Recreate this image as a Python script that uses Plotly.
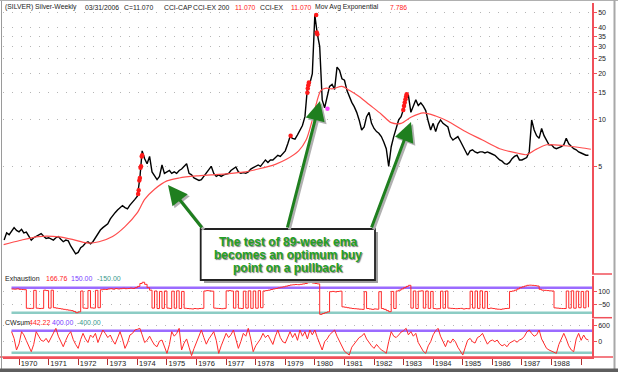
import plotly.graph_objects as go
import pandas as pd

# ---------------- data ----------------
months = pd.date_range("1969-07-01", periods=238, freq="MS")

price = (
    [1.66, 1.85, 1.80, 1.90, 2.00, 1.92]  # 1969 Jul-Dec
    + [1.88, 1.95, 1.85, 1.87, 1.75, 1.66, 1.72, 1.76, 1.80, 1.83, 1.76, 1.70]  # 1970
    + [1.72, 1.68, 1.66, 1.72, 1.75, 1.68, 1.62, 1.66, 1.64, 1.52, 1.43, 1.35]  # 1971
    + [1.38, 1.48, 1.52, 1.59, 1.62, 1.57, 1.62, 1.72, 1.85, 1.93, 2.00, 2.06]  # 1972
    + [2.12, 2.28, 2.40, 2.50, 2.60, 2.70, 2.78, 2.70, 2.65, 2.80, 2.95, 3.05]  # 1973
    + [3.20, 4.20, 6.30, 5.60, 5.20, 5.80, 4.60, 4.30, 4.10, 4.30, 5.10, 4.50]  # 1974
    + [4.60, 4.70, 4.50, 4.60, 4.50, 4.70, 4.80, 5.00, 5.20, 4.50, 4.40, 4.20]  # 1975
    + [4.10, 4.05, 4.10, 4.30, 4.50, 4.80, 5.00, 4.50, 4.30, 4.40, 4.30, 4.40]  # 1976
    + [4.45, 4.50, 4.70, 4.85, 4.95, 4.60, 4.50, 4.55, 4.50, 4.60, 4.80, 4.90]  # 1977
    + [5.00, 5.10, 5.00, 5.30, 5.50, 5.30, 5.50, 5.50, 5.70, 5.90, 5.80, 6.00]  # 1978
    + [6.30, 7.00, 7.80, 7.60, 7.50, 8.00, 8.60, 9.20, 10.5, 16.0, 17.3, 20.0]  # 1979
    + [48.0, 36.0, 30.0, 13.5, 12.0, 14.5, 16.5, 17.0, 15.8, 22.0, 21.0, 18.5]  # 1980
    + [18.1, 15.5, 14.1, 13.0, 12.2, 11.2, 10.0, 8.6, 9.0, 10.5, 11.2, 9.5]  # 1981
    + [8.8, 8.4, 8.2, 7.8, 7.2, 6.5, 5.0, 6.7, 7.8, 9.0, 10.0, 10.5]  # 1982
    + [11.8, 13.8, 14.5, 11.2, 12.4, 13.5, 12.4, 12.9, 12.3, 11.5, 9.8, 8.6]  # 1983
    + [9.5, 8.4, 9.4, 10.0, 9.5, 9.2, 9.0, 7.8, 7.4, 7.6, 7.8, 7.3]  # 1984
    + [6.8, 6.4, 5.9, 6.3, 6.4, 6.2, 6.1, 6.2, 6.2, 6.1, 6.2, 6.1]  # 1985
    + [6.0, 5.9, 5.7, 5.5, 5.4, 5.2, 5.15, 5.3, 5.6, 5.8, 5.9, 5.5]  # 1986
    + [5.5, 5.6, 5.7, 6.2, 10.0, 8.6, 7.9, 7.6, 8.8, 7.9, 7.3, 6.9]  # 1987
    + [6.9, 6.6, 6.5, 6.6, 6.7, 6.9, 7.6, 7.0, 6.7, 6.5, 6.4, 6.2]  # 1988
    + [6.1, 6.0, 5.9, 5.9]  # 1989 Jan-Apr
)

ema_dates = ["1969-06-25", "1970-01-10", "1970-09-01", "1971-05-15", "1971-11-01",
             "1972-04-15", "1972-09-15", "1973-03-01", "1973-08-01", "1974-01-01",
             "1974-04-01", "1974-08-01", "1975-01-01", "1975-06-01", "1976-01-01",
             "1976-07-01", "1977-01-01", "1977-08-01", "1978-02-01", "1978-09-01",
             "1979-01-15", "1979-06-15", "1979-09-15", "1979-12-01", "1980-01-20",
             "1980-03-15", "1980-05-20", "1980-08-01", "1980-12-01", "1981-03-01",
             "1981-07-01", "1981-11-01", "1982-04-01", "1982-08-01", "1982-12-01",
             "1983-04-01", "1983-09-01", "1984-02-01", "1984-07-01", "1985-01-15",
             "1985-09-01", "1986-04-01", "1986-11-01", "1987-03-01", "1987-06-15",
             "1987-11-01", "1988-06-15", "1989-01-01", "1989-05-01"]
ema_values = [1.55, 1.65, 1.75, 1.74, 1.67,
              1.59, 1.62, 1.75, 2.03, 2.50,
              3.05, 3.55, 4.02, 4.20, 4.33,
              4.40, 4.47, 4.58, 4.80, 5.15,
              5.55, 6.30, 7.40, 10.0, 12.8,
              15.5, 16.1, 15.9, 16.5, 15.6,
              14.2, 12.6, 10.9, 9.6, 9.5,
              10.4, 11.1, 10.6, 9.8, 8.5,
              7.4, 6.5, 6.1, 5.95, 6.4,
              6.9, 6.8, 6.6, 6.45]

signal_dates = ["1974-01-10", "1974-01-17", "1974-01-25", "1974-02-01", "1974-02-09",
                "1974-02-15", "1974-02-24", "1974-03-01",
                "1979-03-08",
                "1979-10-01", "1979-10-06", "1979-10-12", "1979-10-20",
                "1980-01-18", "1980-01-25", "1980-02-01",
                "1982-12-28", "1983-01-06", "1983-01-15", "1983-01-24", "1983-02-01", "1983-02-08"]
signal_values = [3.3, 3.5, 4.05, 4.2, 4.9, 5.0, 5.8, 5.9,
                 7.9,
                 15.0, 16.0, 16.8, 17.5,
                 48.0, 37.0, 36.0,
                 11.6, 12.3, 13.0, 13.6, 14.2, 14.7]
magenta_dates = ["1980-06-05"]
magenta_values = [11.8]

exhaustion = (
    [None, None, None, 134, 132, 136]
    + [130, 128, 126, -97, -99, -98, 118, -96, -100, -98, 120, 115]
    + [-95, 120, -90, -95, -100, -105, -110, -115, -120, -125, -135, -150]
    + [-140, 110, -95, -98, 115, -92, -95, 118, -90, 125, 130, 128]
    + [135, 138, 132, 140, 135, 138, 142, 138, 140, 145, 140, 150]
    + [165, 200, 215, 190, 150, 120, -95, 110, -100, 105, -98, 110]
    + [-95, -100, 108, -96, 112, -100, 105, -97, -100, -102, -105, -100]
    + [-103, -100, -98, 110, 115, 112, 108, -95, -98, -100, -102, -98]
    + [112, 115, 110, -95, 110, -97, -100, 108, -95, 112, -98, 110]
    + [-96, 114, -90, 110, 115, 120, 128, 135, 140, 148, 155, 160]
    + [168, 175, 182, 185, 188, 186, 190, 195, 200, 210, 215, 205]
    + [200, 195, -170, -160, -150, -140, 102, 105, 100, 104, 108, -80]
    + [-85, -90, -95, -100, -102, -105, -108, -110, 102, -100, -105, -110]
    + [-105, -108, 102, -100, -110, -125, -138, 105, -100, 110, 120, 135]
    + [150, 165, 178, -95, 110, -100, 108, 112, -95, 110, -98, 105]
    + [-100, -104, -102, 108, -96, 110, -95, -98, -100, -102, -100, -98]
    + [-105, -100, -102, 108, -95, 110, -98, 112, -96, 105, -100, -95]
    + [-100, -105, -108, -110, -105, -100, -98, 105, 110, 120, 135, 150]
    + [160, 170, 178, 180, 178, 175, 170, 130, 120, 118, 115, 112]
    + [110, -92, -95, -98, -100, -100, 110, -95, 112, -96, 108, -90]
    + [105, -92, 110, -85]
)

cwsum = (
    [None, None, None, 364, 120, -302]
    + [-80, 364, 250, 40, -150, -363, -100, 364, 200, 50, 14, 120]
    + [-30, 150, 300, 487, 200, -20, -182, 50, 250, 364, 80, -100]
    + [-242, 80, 304, 100, -30, 243, 150, 304, -30, 200, 425, 300]
    + [150, 243, 50, -90, 150, 364, 100, -242, -50, 243, 300, 425]
    + [450, 487, 250, -30, 50, 200, 30, -120, -182, 20, 61, -200]
    + [-424, -100, 364, 200, 300, 487, -302, -50, 100, -200, -509, -250]
    + [0, 200, 425, 150, -90, 100, 250, 364, 50, -424, -150, 100]
    + [304, 150, 250, 425, 100, -242, 0, 304, 200, 487, 100, -363]
    + [-150, 0, 100, 304, 150, 243, 50, -100, 200, 425, 150, 0]
    + [-50, 200, 364, 150, 304, 50, 425, 200, 364, 100, 425, 250]
    + [425, 150, -100, -302, 0, 100, 250, 350, 425, 200, 0, -200]
    + [-350, -420, -485, -200, -90, 50, 150, 200, 304, 100, -50, -150]
    + [-242, -100, -200, -300, -350, -424, 0, 364, 200, 150, 243, 350]
    + [400, 487, 250, 364, 200, 304, -30, -200, -350, -424, -150, 0]
    + [250, 400, 487, 200, 0, -182, 50, -50, 100, 0, -200, -350]
    + [-485, -200, 50, 122, 0, -50, 150, 200, 304, 100, -90, 20]
    + [61, 0, 61, -80, -150, -100, -182, -50, 0, 50, -20, 61]
    + [100, 200, 350, 425, 300, 200, 250, 425, 100, -100, -242, -300]
    + [-350, -400, -424, -100, 100, 304, 100, -150, -300, -363, 100, 304]
    + [50, 243, 100, 61]
)

year_ticks = [f"{y}-01-01" for y in range(1970, 1990)]
year_labels = [str(y) for y in range(1970, 1989)] + [""]
price_ticks = [5, 10, 15, 20, 25, 30, 35, 40, 50]
exh_ticks = [100, -50]
cw_ticks = [600, 0]
exh_levels = [150, -150]
cw_levels = [400, -400]

# ---------------- layout helpers ----------------
W, H = 618, 372
L, R, T, B = 3, 26, 3, 15
PW, PH = W - L - R, H - T - B


def px(x):
    return (x - L) / PW


def py(y):
    return (H - B - y) / PH


RED = "#ff4d4d"
AXRED = "#f0505a"
PURPLE = "#9b6bff"
TEAL = "#8cccc4"
FONT = "Arial"
DARK = "#222222"

fig = go.Figure()
fig.add_trace(go.Scatter(x=months, y=price, mode="lines",
                         line=dict(color="black", width=1.4), yaxis="y"))
fig.add_trace(go.Scatter(x=ema_dates, y=ema_values, mode="lines",
                         line=dict(color=RED, width=1.2, shape="spline", smoothing=0.8), yaxis="y"))
fig.add_trace(go.Scatter(x=signal_dates, y=signal_values, mode="markers",
                         marker=dict(color="#ff1a1a", size=4.5), yaxis="y"))
fig.add_trace(go.Scatter(x=magenta_dates, y=magenta_values, mode="markers",
                         marker=dict(color="#ff44ff", size=4.5), yaxis="y"))
fig.add_trace(go.Scatter(x=months, y=exhaustion, mode="lines",
                         line=dict(color="#ff2a2a", width=1, shape="hv"), yaxis="y2"))
fig.add_trace(go.Scatter(x=months, y=cwsum, mode="lines",
                         line=dict(color="#ff2a2a", width=1), yaxis="y3"))

shapes = []
for lvl, col in zip(exh_levels, [PURPLE, TEAL]):
    shapes.append(dict(type="line", xref="paper", yref="y2", x0=px(11.5), x1=1, y0=lvl, y1=lvl,
                       line=dict(color=col, width=2.5), layer="below"))
for lvl, col in zip(cw_levels, [PURPLE, TEAL]):
    shapes.append(dict(type="line", xref="paper", yref="y3", x0=px(11.5), x1=1, y0=lvl, y1=lvl,
                       line=dict(color=col, width=2.5), layer="below"))

# panel separators on right axis and bottom rule
for yy in [274, 317.7]:
    shapes.append(dict(type="line", xref="paper", yref="paper", x0=px(592), x1=px(612),
                       y0=py(yy), y1=py(yy), line=dict(color=AXRED, width=1.5)))
shapes.append(dict(type="line", xref="paper", yref="paper", x0=px(0), x1=px(613),
                   y0=py(357), y1=py(357), line=dict(color=AXRED, width=1.5)))

# window frame
shapes.append(dict(type="line", xref="paper", yref="paper", x0=px(1.5), x1=px(1.5),
                   y0=py(0), y1=py(369), line=dict(color="#9a9a9a", width=1)))
shapes.append(dict(type="line", xref="paper", yref="paper", x0=px(0), x1=px(618),
                   y0=py(0.5), y1=py(0.5), line=dict(color="#b0b0b0", width=1)))
shapes.append(dict(type="line", xref="paper", yref="paper", x0=px(614.5), x1=px(614.5),
                   y0=py(0), y1=py(369), line=dict(color="#a8a8a8", width=2)))
shapes.append(dict(type="rect", xref="paper", yref="paper", x0=px(0), x1=px(618),
                   y0=py(368.5), y1=py(372), line=dict(width=0), fillcolor="#5e5e5e"))

# callout box with shadow
shapes.append(dict(type="rect", xref="paper", yref="paper", x0=px(204), x1=px(378),
                   y0=py(283), y1=py(232), line=dict(width=0), fillcolor="#a0a0a0"))
shapes.append(dict(type="rect", xref="paper", yref="paper", x0=px(200.7), x1=px(375),
                   y0=py(280), y1=py(229), line=dict(color="#222222", width=1.8), fillcolor="white"))

annotations = []
# arrows (shadow then green)
arrows = [((168, 185), (203, 229)), ((320, 101), (287, 229)), ((411, 122), (371, 229))]
for (tx, ty), (sx, sy) in arrows:
    annotations.append(dict(x=px(tx + 2), y=py(ty + 2), xref="paper", yref="paper", text="",
                            showarrow=True, ax=sx - tx, ay=sy - ty, arrowhead=2, arrowsize=1.3,
                            arrowwidth=3, arrowcolor="#b0b0b0", standoff=0))
for (tx, ty), (sx, sy) in arrows:
    annotations.append(dict(x=px(tx), y=py(ty), xref="paper", yref="paper", text="",
                            showarrow=True, ax=sx - tx, ay=sy - ty, arrowhead=2, arrowsize=1.3,
                            arrowwidth=3, arrowcolor="#1f7f1f", standoff=0))

for txt, yy in [("The test of 89-week ema", 241.7), ("becomes an optimum buy", 255),
                ("point on a pullback", 267.7)]:
    annotations.append(dict(x=px(288), y=py(yy), xref="paper", yref="paper", text=f"<b>{txt}</b>",
                            showarrow=False, xanchor="center", yanchor="middle",
                            font=dict(family=FONT, size=12, color="#23a023",
                                      shadow="1px 1px 1px #777777")))

header = [(3.3, "(SILVER) Silver-Weekly", DARK), (83, "03/31/2006", DARK), (122, "C=11.070", DARK),
          (162, "CCI-CAP", DARK), (191, "CCI-EX 200", DARK), (233, "11.070", "#ff1a1a"),
          (258, "CCI-EX", DARK), (289, "11.070", "#ff1a1a"), (313, "Mov Avg Exponential", DARK),
          (388, "7.786", "#ff1a1a")]
for xx, txt, col in header:
    annotations.append(dict(x=px(xx), y=py(7.3), xref="paper", yref="paper", text=txt,
                            showarrow=False, xanchor="left", yanchor="middle",
                            font=dict(family=FONT, size=6.8, color=col)))

sub_labels = [(3, 278.3, "Exhaustion", DARK), (44, 278.3, "166.76", "#ff1a1a"),
              (69, 278.3, "150.00", "#7a3cff"), (95, 278.3, "-150.00", "#3a9a8c"),
              (3, 322.3, "CWsum", DARK), (27, 322.3, "442.22", "#ff1a1a"),
              (50, 322.3, "400.00", "#7a3cff"), (75, 322.3, "-400.00", "#3a9a8c")]
for xx, yy, txt, col in sub_labels:
    annotations.append(dict(x=px(xx), y=py(yy), xref="paper", yref="paper", text=txt,
                            showarrow=False, xanchor="left", yanchor="middle",
                            font=dict(family=FONT, size=7, color=col)))

grid = dict(showgrid=True, gridcolor="#b5b5b5", griddash="1px,8px", gridwidth=1)
yax_common = dict(side="right", anchor="x", showline=True, linecolor=AXRED, linewidth=1.5,
                  ticks="outside", ticklen=3, tickcolor=AXRED, zeroline=False,
                  tickfont=dict(family=FONT, size=7, color=DARK), **grid)

fig.update_layout(
    width=W, height=H, margin=dict(l=L, r=R, t=T, b=B),
    paper_bgcolor="white", plot_bgcolor="white", showlegend=False,
    xaxis=dict(type="date", range=["1969-06-17", "1989-05-15"], anchor="y3", domain=[0, 1],
               showline=True, linecolor=AXRED, linewidth=1.5, ticks="outside", ticklen=6,
               tickcolor="#b03030", tickvals=year_ticks, ticktext=year_labels,
               ticklabelshift=10, ticklabelstandoff=-8,
               tickfont=dict(family=FONT, size=7.5, color=DARK), showgrid=False, zeroline=False),
    yaxis=dict(domain=[py(274), 1], type="log", range=[0, 1.759], tickvals=price_ticks,
               **yax_common),
    yaxis2=dict(domain=[py(317.7), py(276)], range=[-210, 290], tickvals=exh_ticks, **yax_common),
    yaxis3=dict(domain=[0, py(319)], range=[-556, 825], tickvals=cw_ticks, **yax_common),
    shapes=shapes, annotations=annotations,
)

fig.write_html("out.html")
